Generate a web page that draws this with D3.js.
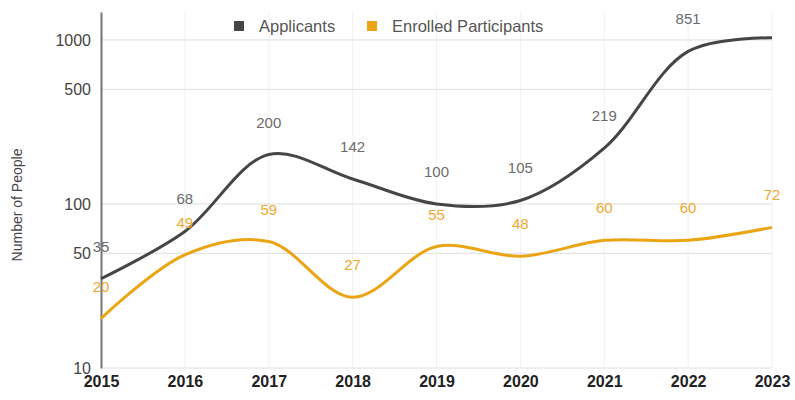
<!DOCTYPE html>
<html>
<head>
<meta charset="utf-8">
<script src="https://cdn.jsdelivr.net/npm/d3@7"></script>
<style>
  body { margin: 0; background: #fff; }
  text { font-family: "Liberation Sans", Arial, sans-serif; }
</style>
</head>
<body>
<script>
// data
let years = [2015, 2016, 2017, 2018, 2019, 2020, 2021, 2022, 2023]
let applicants = [35, 68, 200, 142, 100, 105, 219, 851, 1030]
let enrolled = [20, 49, 59, 27, 55, 48, 60, 60, 72]
let yTicks = [10, 50, 100, 500, 1000]
let seriesNames = ['Applicants', 'Enrolled Participants']
let colors = ['#454545', '#EBA514']
let labelColors = ['#6b6b6b', '#F0A830']

let W = 795, H = 400
let m = { top: 12, right: 23, bottom: 32, left: 101 }

let svg = d3.select('body')
    .append('svg')
    .attr('width', W)
    .attr('height', H)

let x = d3.scaleLinear()
    .domain([2015, 2023])
    .range([m.left, W - m.right])

let y = d3.scaleLog()
    .domain([10, 1480])
    .range([H - m.bottom, m.top])

// grid
svg.append('g')
    .selectAll('line')
    .data(years)
    .enter()
    .append('line')
    .attr('x1', d => x(d)).attr('x2', d => x(d))
    .attr('y1', m.top).attr('y2', H - m.bottom)
    .style('stroke', '#f1f1f1')

svg.append('g')
    .selectAll('line')
    .data(yTicks)
    .enter()
    .append('line')
    .attr('x1', m.left).attr('x2', W - m.right)
    .attr('y1', d => y(d)).attr('y2', d => y(d))
    .style('stroke', '#dedede')

// axes
let yAxis = svg.append('g')
    .attr('transform', `translate(${m.left},0)`)
    .call(d3.axisLeft(y).tickValues(yTicks).tickSize(0).tickPadding(10).tickFormat(d3.format('d')))
yAxis.select('.domain').style('stroke', '#777').style('stroke-width', 2)
yAxis.selectAll('text').style('font-size', '16px').style('fill', '#444')

let xAxis = svg.append('g')
    .attr('transform', `translate(0,${H - m.bottom})`)
    .call(d3.axisBottom(x).tickValues(years).tickSize(0).tickPadding(8).tickFormat(d3.format('d')))
xAxis.select('.domain').remove()
xAxis.selectAll('text').style('font-size', '16px').style('fill', '#222').style('font-weight', 'bold')

svg.append('text')
    .attr('transform', `translate(22, ${(m.top + H - m.bottom) / 2 + 15}) rotate(-90)`)
    .attr('text-anchor', 'middle')
    .style('font-size', '14px')
    .style('fill', '#444')
    .text('Number of People')

// lines
let line = d3.line()
    .x((d, i) => x(years[i]))
    .y(d => y(d))
    .curve(d3.curveCatmullRom.alpha(0.5))

let allSeries = [applicants, enrolled]

svg.append('g')
    .selectAll('path')
    .data(allSeries)
    .enter()
    .append('path')
    .attr('d', d => line(d))
    .style('fill', 'none')
    .style('stroke', (d, i) => colors[i])
    .style('stroke-width', 3)

// value labels; ones that would land above the plot are left out (as in the original)
let labels = svg.append('g')
allSeries.forEach((s, k) => {
    let pts = s.map((v, i) => ({ v: v, yr: years[i] }))
        .filter(p => y(p.v) - 27 - 11 >= m.top)
    labels.selectAll('.lbl' + k)
        .data(pts)
        .enter()
        .append('text')
        .attr('class', 'lbl' + k)
        .attr('x', p => x(p.yr))
        .attr('y', p => y(p.v) - 27)
        .attr('text-anchor', 'middle')
        .style('font-size', '15px')
        .style('fill', labelColors[k])
        .text(p => p.v)
})

// legend
let legendX = [234, 367]
let legend = svg.append('g')
    .selectAll('g')
    .data(seriesNames)
    .enter()
    .append('g')
    .attr('transform', (d, i) => `translate(${legendX[i]}, 21)`)

legend.append('rect')
    .attr('width', 10).attr('height', 10)
    .style('fill', (d, i) => colors[i])

legend.append('text')
    .attr('x', 25).attr('y', 11)
    .style('font-size', '16.5px')
    .style('fill', '#555')
    .text(d => d)
</script>
</body>
</html>
